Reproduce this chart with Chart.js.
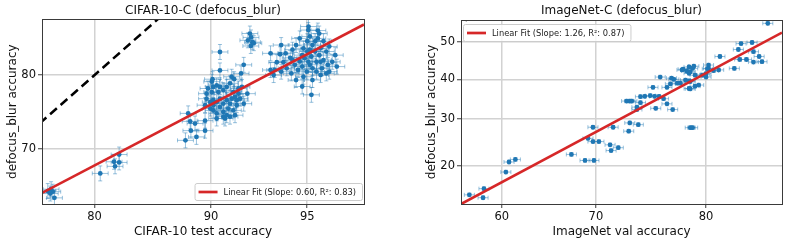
<!DOCTYPE html>
<html>
<head>
<meta charset="utf-8">
<script src="https://cdn.jsdelivr.net/npm/chart.js@4.4.1/dist/chart.umd.min.js"></script>
<style>
  html, body { margin: 0; padding: 0; background: #fff; }
  #wrap { position: relative; width: 789px; height: 242px; }
  canvas { position: absolute; top: 0; }
  #cifar { left: 0; }
  #imnet { left: 395px; }
</style>
</head>
<body>
<div id="wrap">
  <canvas id="cifar" width="395" height="242"></canvas>
  <canvas id="imnet" width="394" height="242"></canvas>
</div>
<script>
// CIFAR-10 models: clean test accuracy vs CIFAR-10-C defocus_blur accuracy (%)
const cifarTest = [
  75.1, 75.3, 75.5, 74.7, 75.0,
  80.6, 82.0, 82.5, 82.1, 82.5,
  88.4, 88.55, 88.2, 89.0, 88.9, 89.6, 89.6, 88.6,
  90.05, 90.15, 90.05, 90.37, 90.58, 90.47, 90.79, 91.0, 91.2, 91.3, 91.4, 91.5,
  91.7, 91.6, 91.9, 90.15, 90.37, 90.58, 90.79, 91.0, 91.2, 91.3, 89.95, 90.15,
  90.37, 90.58, 90.79, 91.1, 91.4, 91.6, 90.37, 90.79, 90.9, 91.2, 89.95, 89.7,
  89.6, 89.7, 89.8, 91.7, 91.8, 92.2, 92.0, 91.5, 90.1, 90.15, 91.0,
  90.58, 90.58, 92.0, 91.85, 91.45,
  92.34, 92.48, 92.39, 92.55, 92.23, 92.4,
  93.4, 93.4, 93.55, 93.9, 93.85, 94.1, 93.7, 94.0, 94.15, 93.9, 93.6, 94.3,
  94.4, 94.55, 94.5, 94.7, 94.8, 94.85, 95.0, 95.04, 95.1, 95.2, 95.3, 95.16,
  95.04, 95.35, 95.45, 95.5, 95.4, 95.45, 95.6, 95.7, 95.6, 95.75, 95.8, 95.55,
  95.2, 94.98, 94.8, 95.2, 95.16, 95.5, 94.85, 94.35, 94.63, 95.1, 94.9, 96.0,
  95.9, 95.8, 96.05, 94.7, 95.0, 95.35, 94.55, 95.5, 95.1, 95.3, 94.8, 95.7,
  94.4, 95.05, 95.4
];
const cifarBlur = [
  63.8, 63.4, 62.4, 63.5, 63.1,
  66.3, 68.1, 69.2, 67.4, 68.0,
  75.1, 74.0, 71.3, 71.8, 73.7, 72.7, 74.1, 72.7,
  79.2, 78.55, 77.9, 78.75, 78.55, 77.9, 78.15, 78.55, 79.0, 79.8, 77.9, 77.3,
  77.7, 76.85, 78.55, 76.85, 76.6, 77.05, 76.4, 76.85, 76.4, 77.05, 75.75, 75.5,
  75.1, 75.95, 75.3, 75.75, 75.5, 76.2, 74.4, 74.65, 74.4, 74.65, 76.6, 77.05,
  76.2, 77.7, 78.35, 78.35, 77.05, 77.7, 76.4, 74.85, 79.5, 76.2, 74.85,
  82.65, 80.55, 81.2, 80.2, 79.5,
  84.6, 83.7, 83.3, 83.6, 83.9, 84.2,
  82.5, 80.6, 80.0, 83.4, 82.4, 82.5, 81.5, 81.5, 80.8, 80.4, 80.6, 82.0,
  82.9, 83.4, 81.2, 81.6, 82.3, 83.05, 83.8, 84.95, 84.3, 83.4, 82.7, 82.15,
  81.55, 81.55, 82.3, 83.05, 84.1, 84.6, 83.8, 82.7, 81.75, 81.2, 83.25, 80.8,
  80.8, 80.4, 78.6, 79.4, 77.55, 80.0, 79.8, 80.2, 80.6, 81.2, 81.95, 82.3,
  81.55, 80.4, 81.0, 84.1, 82.7, 80.4, 79.4, 81.55, 82.9, 83.8, 81.0, 80.2,
  81.75, 85.3, 84.9
];
const cifarFitX = [74.0, 96.85];
const cifarFitY = [63.2, 85.5];
const cifarXTicks = [80, 90, 95];
const cifarYTicks = [70, 80];

// ImageNet models: val accuracy vs ImageNet-C defocus_blur accuracy (%)
const imnetVal = [
  56.35, 58.0, 57.9, 60.45, 60.8, 61.5, 67.5, 68.9, 69.8, 69.7, 69.2, 69.7,
  70.3, 71.7, 71.4, 71.5, 72.2, 73.3, 73.2, 74.1, 73.0, 73.3, 73.5, 74.3,
  73.97, 73.97, 75.7, 76.7, 77.2, 74.3, 74.7, 75.2, 75.6, 76.0, 76.4, 75.45,
  76.1, 77.1, 77.3, 76.7, 77.0, 77.6, 77.85, 78.3, 78.0, 78.1, 78.4, 78.6,
  78.9, 79.0, 78.7, 78.6, 79.1, 78.6, 78.7, 79.4, 79.1, 78.7, 78.6, 79.7,
  80.0, 80.2, 80.2, 80.6, 81.0, 80.0, 79.9, 81.1, 82.2, 82.5, 82.7, 83.5,
  82.6, 83.1, 83.6, 84.0, 84.2, 83.6, 84.6, 78.7, 78.9, 80.1
];
const imnetBlur = [
  14.9, 15.9, 14.45, 18.8, 20.7, 21.2, 22.2, 21.0, 21.0, 28.1, 25.6, 24.9,
  24.9, 28.1, 24.2, 23.0, 23.6, 29.1, 27.2, 28.7, 34.4, 34.4, 34.4, 34.0,
  32.9, 32.3, 32.6, 33.7, 32.3, 35.5, 35.6, 35.8, 35.6, 35.6, 35.0, 37.9,
  40.6, 40.3, 40.0, 37.9, 38.8, 39.0, 39.0, 39.8, 42.5, 42.7, 42.2, 43.3,
  42.9, 43.5, 42.0, 41.6, 41.1, 39.6, 39.4, 38.5, 38.2, 37.5, 37.6, 41.1,
  41.5, 43.8, 42.9, 42.3, 42.5, 40.6, 41.2, 46.1, 42.9, 48.0, 49.6, 49.9,
  45.3, 45.3, 44.6, 46.1, 44.7, 47.4, 55.1, 28.0, 28.0, 42.8
];
const imnetFitX = [55.4, 85.55];
const imnetFitY = [13.5, 52.6];
const imnetXTicks = [60, 70, 80];
const imnetYTicks = [20, 30, 40, 50];

const FONT = '"DejaVu Sans", sans-serif';
const BLUE = '#1f77b4';

// inverse normal CDF (Acklam), used by the probit axis
function probit(p) {
  const a = [-3.969683028665376e+01, 2.209460984245205e+02, -2.759285104469687e+02, 1.383577518672690e+02, -3.066479806614716e+01, 2.506628277459239e+00];
  const b = [-5.447609879822406e+01, 1.615858368580409e+02, -1.556989798598866e+02, 6.680131188771972e+01, -1.328068155288572e+01];
  const c = [-7.784894002430293e-03, -3.223964580411365e-01, -2.400758277161838e+00, -2.549732539343734e+00, 4.374664141464968e+00, 2.938163982698783e+00];
  const d = [7.784695709041462e-03, 3.224671290700398e-01, 2.445134137142996e+00, 3.754408661907416e+00];
  const pl = 0.02425;
  let q, r;
  if (p < pl) {
    q = Math.sqrt(-2 * Math.log(p));
    return (((((c[0]*q+c[1])*q+c[2])*q+c[3])*q+c[4])*q+c[5]) / ((((d[0]*q+d[1])*q+d[2])*q+d[3])*q+1);
  }
  if (p > 1 - pl) {
    q = Math.sqrt(-2 * Math.log(1 - p));
    return -(((((c[0]*q+c[1])*q+c[2])*q+c[3])*q+c[4])*q+c[5]) / ((((d[0]*q+d[1])*q+d[2])*q+d[3])*q+1);
  }
  q = p - 0.5; r = q * q;
  return (((((a[0]*r+a[1])*r+a[2])*r+a[3])*r+a[4])*r+a[5])*q / (((((b[0]*r+b[1])*r+b[2])*r+b[3])*r+b[4])*r+1);
}
const toProbit = v => probit(v / 100);

// axis on a probit scale, like the original plots
class ProbitScale extends Chart.Scale {
  determineDataLimits() {
    this.min = this.options.min;
    this.max = this.options.max;
  }
  buildTicks() { return []; }
  getLabelForValue(v) { return String(v); }
  configure() {
    super.configure();
    this._pMin = toProbit(this.min);
    this._pMax = toProbit(this.max);
  }
  probitPixel(v, shift) {
    return this.getPixelForDecimal((toProbit(v) + (shift || 0) - this._pMin) / (this._pMax - this._pMin));
  }
  getPixelForValue(v) { return this.probitPixel(v, 0); }
  getValueForPixel(px) {
    const t = this._pMin + this.getDecimalForPixel(px) * (this._pMax - this._pMin);
    let lo = 0.01, hi = 99.99;
    for (let i = 0; i < 40; i++) { const m = (lo + hi) / 2; if (toProbit(m) < t) lo = m; else hi = m; }
    return lo;
  }
}
ProbitScale.id = 'probit';
ProbitScale.defaults = {};
Chart.register(ProbitScale);

// error bars (half-width in probit units), drawn under the points
const errorBars = {
  id: 'errorBars',
  beforeDatasetsDraw(chart, args, opts) {
    const pts = chart.data.datasets[2].data;
    const xs = chart.scales.x, ys = chart.scales.y, a = chart.chartArea;
    const ctx = chart.ctx;
    ctx.save();
    ctx.beginPath();
    ctx.rect(a.left, a.top, a.right - a.left, a.bottom - a.top);
    ctx.clip();
    ctx.strokeStyle = 'rgba(31,119,180,0.45)';
    ctx.lineWidth = 1;
    const cap = 2;
    pts.forEach(p => {
      const px = xs.getPixelForValue(p.x), py = ys.getPixelForValue(p.y);
      const x0 = xs.probitPixel(p.x, -opts.x), x1 = xs.probitPixel(p.x, opts.x);
      const y0 = ys.probitPixel(p.y, -opts.y), y1 = ys.probitPixel(p.y, opts.y);
      ctx.beginPath();
      ctx.moveTo(x0, py); ctx.lineTo(x1, py);
      ctx.moveTo(x0, py - cap); ctx.lineTo(x0, py + cap);
      ctx.moveTo(x1, py - cap); ctx.lineTo(x1, py + cap);
      ctx.moveTo(px, y0); ctx.lineTo(px, y1);
      ctx.moveTo(px - cap, y0); ctx.lineTo(px + cap, y0);
      ctx.moveTo(px - cap, y1); ctx.lineTo(px + cap, y1);
      ctx.stroke();
    });
    ctx.restore();
  }
};

// axes box
const frame = {
  id: 'frame',
  afterDatasetsDraw(chart) {
    const { ctx, chartArea: a } = chart;
    ctx.save();
    ctx.strokeStyle = '#3a3a3a';
    ctx.lineWidth = 1;
    ctx.strokeRect(Math.round(a.left) + 0.5, Math.round(a.top) + 0.5,
      Math.round(a.right - a.left), Math.round(a.bottom - a.top));
    ctx.restore();
  }
};

// matplotlib-like legend with only the fit line
const fitLegend = {
  id: 'fitLegend',
  afterDraw(chart, args, opts) {
    const ds = chart.data.datasets[0];
    const { ctx, chartArea: a } = chart;
    ctx.save();
    ctx.font = '8.3px ' + FONT;
    const tw = ctx.measureText(ds.label).width;
    const w = 4 + 19 + 6 + tw + 6, h = 17;
    const x = opts.corner === 'lower right' ? a.right - 2 - w : a.left + 2;
    const y = opts.corner === 'lower right' ? a.bottom - 4 - h : a.top + 4;
    ctx.beginPath();
    ctx.roundRect(x + 0.5, y + 0.5, w, h, 2);
    ctx.fillStyle = 'rgba(255,255,255,0.85)';
    ctx.fill();
    ctx.strokeStyle = '#cccccc';
    ctx.lineWidth = 1;
    ctx.stroke();
    ctx.beginPath();
    ctx.moveTo(x + 4, y + h / 2 + 0.5);
    ctx.lineTo(x + 23, y + h / 2 + 0.5);
    ctx.strokeStyle = ds.borderColor;
    ctx.lineWidth = 2.7;
    ctx.stroke();
    ctx.fillStyle = '#222';
    ctx.textBaseline = 'middle';
    ctx.fillText(ds.label, x + 29, y + h / 2 + 1);
    ctx.restore();
  }
};

function axis(min, max, ticks, title, fitSize, titlePad) {
  return {
    type: 'probit',
    min: min,
    max: max,
    afterBuildTicks: s => { s.ticks = ticks.map(v => ({ value: v })); },
    afterFit: s => { if (s.isHorizontal()) s.height = fitSize; else s.width = fitSize; },
    grid: { color: '#d2d2d2', lineWidth: 1.5, tickLength: 4, tickColor: '#3a3a3a', tickWidth: 1 },
    border: { display: false },
    ticks: { color: '#111', font: { family: FONT, size: 11.5 }, padding: 2, maxRotation: 0, autoSkip: false },
    title: { display: true, text: title, color: '#111', font: { family: FONT, size: 12 }, padding: titlePad }
  };
}

function makeChart(id, o) {
  const points = o.xs.map((x, i) => ({ x: x, y: o.ys[i] }));
  const fit = o.fitX.map((x, i) => ({ x: x, y: o.fitY[i] }));
  const diag = [{ x: 50, y: 50 }, { x: 99, y: 99 }];
  return new Chart(document.getElementById(id), {
    type: 'scatter',
    data: {
      datasets: [
        { label: o.fitLabel, type: 'line', data: fit, borderColor: '#d62728', borderWidth: 2.7, pointRadius: 0, tension: 0, fill: false },
        { label: 'y = x', type: 'line', data: diag, borderColor: '#000', borderDash: [9, 5], borderWidth: 2.5, pointRadius: 0, tension: 0, fill: false },
        { label: 'models', data: points, backgroundColor: BLUE, borderWidth: 0, pointRadius: 2.4 }
      ]
    },
    options: {
      responsive: false,
      animation: false,
      events: [],
      layout: { padding: o.padding },
      plugins: {
        legend: { display: false },
        tooltip: { enabled: false },
        title: { display: true, fullSize: false, text: o.title, color: '#111', font: { family: FONT, size: 12, weight: 'normal' }, padding: o.titlePad },
        errorBars: o.err,
        fitLegend: { corner: o.legendCorner }
      },
      scales: {
        x: axis(o.xMin, o.xMax, o.xTicks, o.xTitle, 38, { top: 0, bottom: 3 }),
        y: axis(o.yMin, o.yMax, o.yTicks, 'defocus_blur accuracy', 42, { top: 5.5, bottom: 0 })
      }
    },
    plugins: [errorBars, frame, fitLegend]
  });
}

makeChart('cifar', {
  xs: cifarTest, ys: cifarBlur, fitX: cifarFitX, fitY: cifarFitY,
  xTicks: cifarXTicks, yTicks: cifarYTicks,
  xMin: 74.0, xMax: 96.85, yMin: 61.4, yMax: 86.0,
  title: 'CIFAR-10-C (defocus_blur)',
  xTitle: 'CIFAR-10 test accuracy',
  fitLabel: 'Linear Fit (Slope: 0.60, R²: 0.83)',
  legendCorner: 'lower right',
  err: { x: 0.03, y: 0.032 },
  padding: { left: 0, right: 31, top: 0, bottom: 0 },
  titlePad: { top: 4, bottom: 0.9 }
});

makeChart('imnet', {
  xs: imnetVal, ys: imnetBlur, fitX: imnetFitX, fitY: imnetFitY,
  xTicks: imnetXTicks, yTicks: imnetYTicks,
  xMin: 55.4, xMax: 85.55, yMin: 13.5, yMax: 56.0,
  title: 'ImageNet-C (defocus_blur)',
  xTitle: 'ImageNet val accuracy',
  fitLabel: 'Linear Fit (Slope: 1.26, R²: 0.87)',
  legendCorner: 'upper left',
  err: { x: 0.0145, y: 0.012 },
  padding: { left: 24, right: 7, top: 0, bottom: 0 },
  titlePad: { top: 4, bottom: 1.6 }
});
</script>
</body>
</html>
